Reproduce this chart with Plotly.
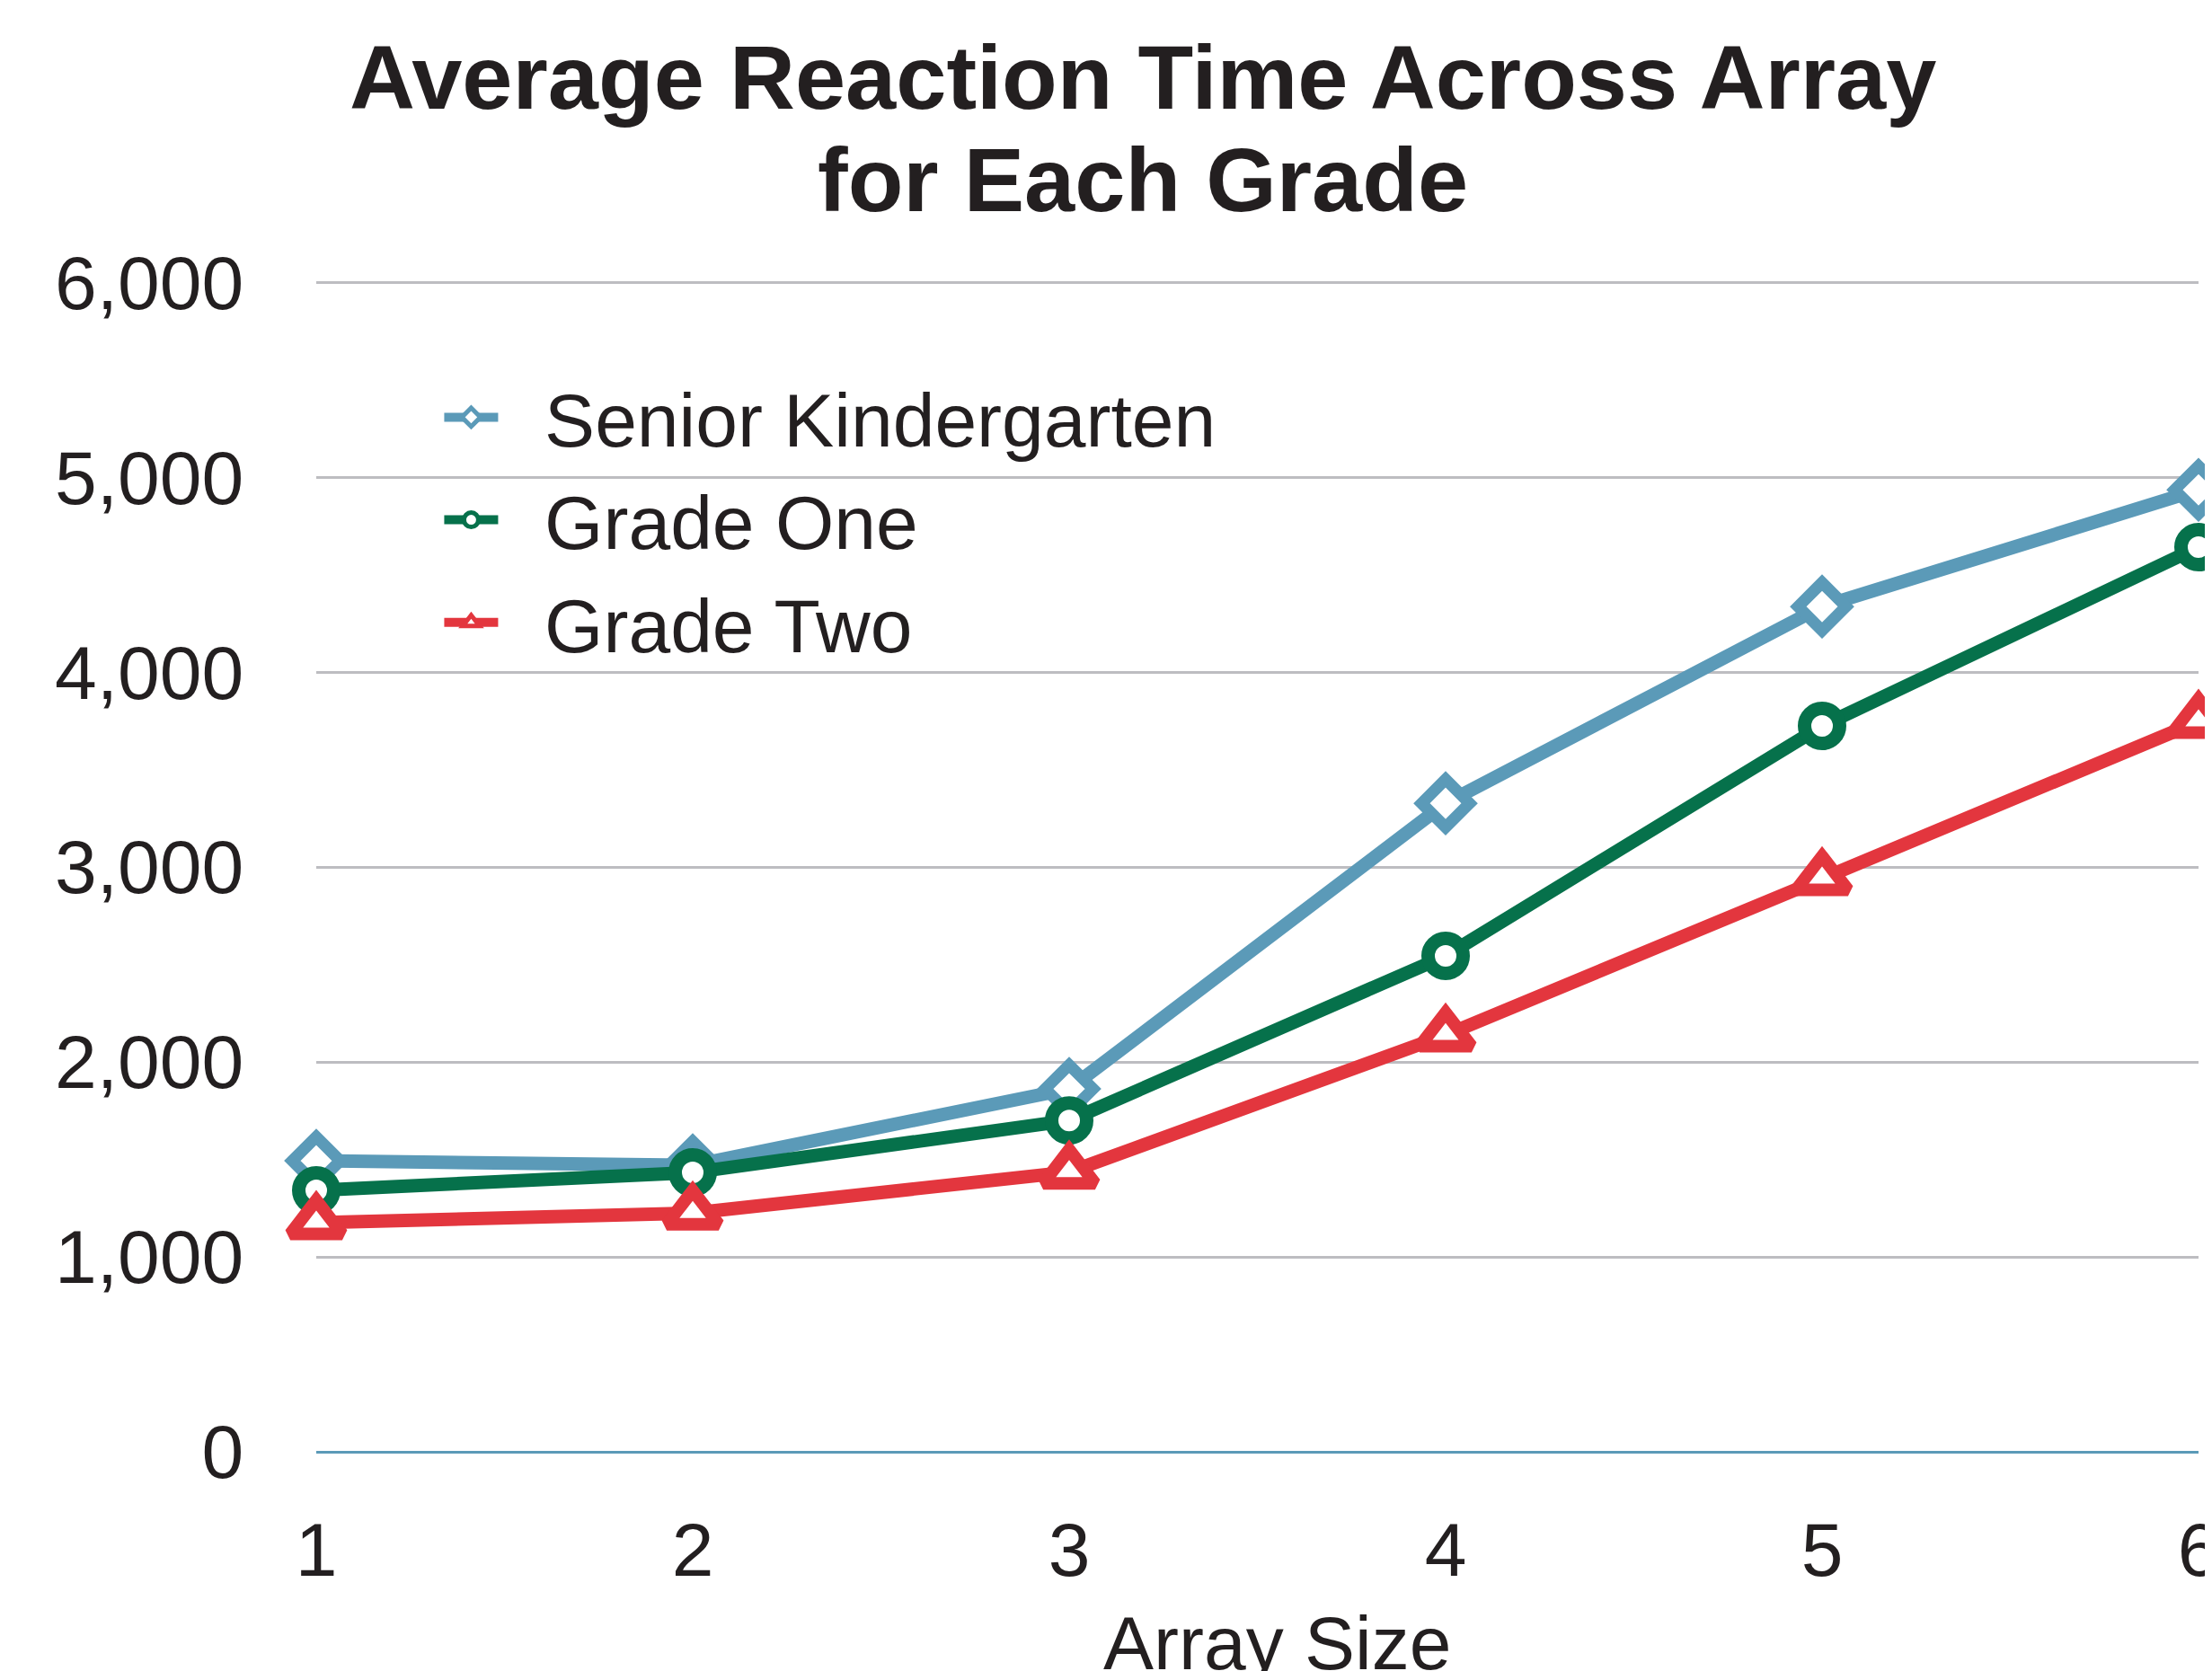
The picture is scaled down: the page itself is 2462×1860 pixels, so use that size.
import plotly.graph_objects as go

array_size = [1, 2, 3, 4, 5, 6]
senior_kindergarten = [1493, 1470, 1862, 3327, 4336, 4935]
grade_one = [1341, 1433, 1700, 2544, 3724, 4641]
grade_two = [1175, 1225, 1435, 2138, 2940, 3747]

y_ticks = [0, 1000, 2000, 3000, 4000, 5000, 6000]
title_lines = ["Average Reaction Time Across Array", "for Each Grade"]
x_title = "Array Size"

series = [
    ("Senior Kindergarten", senior_kindergarten, "#5b9ab8", "diamond", 41, 13),
    ("Grade One", grade_one, "#06714b", "circle", 39, 15),
    ("Grade Two", grade_two, "#e3363e", "triangle-up", 50, 14),
]

FONT = "Liberation Sans, Arial, Helvetica, sans-serif"
TXT = "#231f20"

fig = go.Figure()
for i, (name, vals, color, sym, size, lw) in enumerate(series):
    fig.add_trace(go.Scatter(
        x=array_size, y=vals, name="\u00a0\u00a0" + name, mode="lines+markers",
        legendgroup=f"g{i}",
        line=dict(color=color, width=15),
        marker=dict(symbol=sym, size=size, color="white",
                    line=dict(color=color, width=lw)),
        cliponaxis=False,
    ))

# two-line title with tight spacing, as in the reference
for txt, ypx in zip(title_lines, [86, 200]):
    fig.add_annotation(
        text=f"<b>{txt}</b>", xref="paper", yref="paper",
        x=(1272 - 352) / 2095, y=(1616 - ypx) / 1304,
        xanchor="center", yanchor="middle", showarrow=False,
        font=dict(family=FONT, size=101, color=TXT),
    )

# x-axis title (placed slightly right of centre, as in the reference)
fig.add_annotation(
    text=x_title, xref="paper", yref="paper",
    x=(1421 - 352) / 2095, y=(1616 - 1780) / 1304,
    xanchor="center", yanchor="top", showarrow=False,
    font=dict(family=FONT, size=84, color=TXT),
)

fig.update_layout(
    width=2462, height=1860,
    margin=dict(l=344, r=23, t=304, b=252),
    paper_bgcolor="white", plot_bgcolor="white",
    font=dict(family=FONT, color=TXT, size=84),
    legend=dict(
        x=0.0656, y=0.930, xanchor="left", yanchor="top",
        font=dict(size=84, family=FONT, color=TXT),
        bgcolor="rgba(0,0,0,0)", itemwidth=60, tracegroupgap=2,
    ),
    showlegend=True,
)
fig.update_xaxes(
    range=[1, 6], tickvals=array_size, showgrid=False, zeroline=False,
    showline=False, ticks="outside", ticklen=36, tickcolor="rgba(0,0,0,0)",
    tickfont=dict(size=84, family=FONT, color=TXT), automargin=False,
    ticklabeloverflow="allow",
)
fig.update_yaxes(
    range=[0, 6010], tickvals=y_ticks, tickformat=",", showgrid=True,
    gridcolor="#bdbdc1", gridwidth=3, zeroline=True, zerolinecolor="#5b9ab8",
    zerolinewidth=3, showline=False, ticks="outside", ticklen=63,
    tickcolor="rgba(0,0,0,0)", tickfont=dict(size=84, family=FONT, color=TXT),
    automargin=False,
)

fig.write_html("out.html")
